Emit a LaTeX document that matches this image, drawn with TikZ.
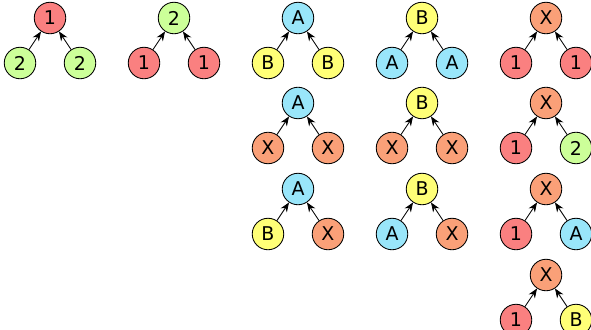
\documentclass[tikz,border=0pt]{standalone}
\usepackage{fontspec}
\setmainfont{DejaVu Sans}
\usetikzlibrary{arrows.meta, positioning}
\definecolor{onered}{RGB}{250, 128, 128}
\definecolor{twogreen}{RGB}{204, 255, 153}
\definecolor{acyan}{RGB}{153, 230, 250}
\definecolor{byellow}{RGB}{255, 255, 119}
\definecolor{xorange}{RGB}{250, 160, 120}
\tikzset{
  vert/.style={circle, draw=black, line width=0.8pt, minimum size=1.05cm, inner sep=0pt,
    font=\fontsize{18}{20}\selectfont},
  c1/.style={vert, fill=onered},
  c2/.style={vert, fill=twogreen},
  cA/.style={vert, fill=acyan},
  cB/.style={vert, fill=byellow},
  cX/.style={vert, fill=xorange},
  edge/.style={-{Stealth[length=9pt, width=7pt]}, line width=0.8pt}
}
% one small tree: name, x, y, root, left, right
\newcommand{\ptree}[6]{%
  \node[c#4] (#1r) at (#2,#3) {#4};
  \node[c#5, on grid, below left=1.5cm and 1cm of #1r] (#1l) {#5};
  \node[c#6, on grid, below right=1.5cm and 1cm of #1r] (#1rt) {#6};
  \draw[edge] (#1l) -- (#1r);
  \draw[edge] (#1rt) -- (#1r);
}
\begin{document}
\begin{tikzpicture}
    \useasboundingbox (0,0) rectangle (19.7,-10.967);

    % Row 1
    \ptree{oneone}{1.667}{-0.6}{1}{2}{2}
    \ptree{twotwo}{5.8}{-0.6}{2}{1}{1}
    \ptree{abb}{9.933}{-0.6}{A}{B}{B}
    \ptree{baa}{14.067}{-0.6}{B}{A}{A}
    \ptree{xoo}{18.2}{-0.6}{X}{1}{1}

    % Row 2
    \ptree{axx}{9.933}{-3.433}{A}{X}{X}
    \ptree{bxx}{14.067}{-3.433}{B}{X}{X}
    \ptree{xot}{18.2}{-3.433}{X}{1}{2}

    % Row 3
    \ptree{abx}{9.933}{-6.3}{A}{B}{X}
    \ptree{bax}{14.067}{-6.3}{B}{A}{X}
    \ptree{xoa}{18.2}{-6.3}{X}{1}{A}

    % Row 4
    \ptree{xob}{18.2}{-9.167}{X}{1}{B}
\end{tikzpicture}
\end{document}
